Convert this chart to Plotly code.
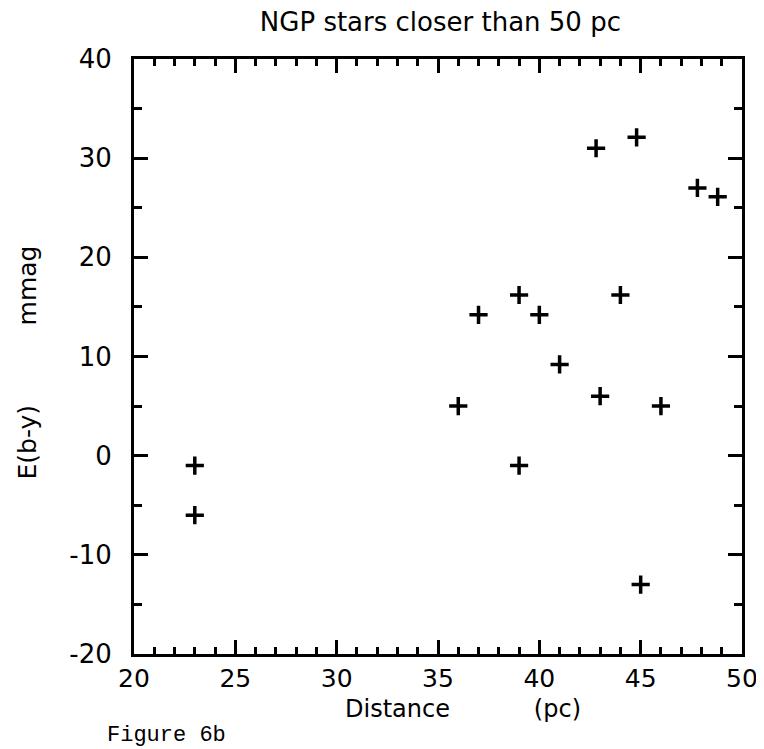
import plotly.graph_objects as go

# stars closer than 50 pc
distance = [23, 23, 36, 37, 39, 39, 40, 41, 42.8, 43, 44, 44.8, 45, 46, 47.8, 48.8]
ebv_mmag = [-1, -6, 5, 14.2, 16.2, -1, 14.2, 9.2, 31, 6, 16.2, 32.1, -13, 5, 27, 26.1]

x_ticks = [20, 25, 30, 35, 40, 45, 50]
y_ticks = [-20, -10, 0, 10, 20, 30, 40]

plot_font = "DejaVu Sans"
nb = "\u00a0"

fig = go.Figure()
fig.add_trace(go.Scatter(
    x=distance, y=ebv_mmag, mode="markers",
    marker=dict(symbol="cross-thin", size=13, color="black",
                line=dict(width=3.5, color="black")),
    showlegend=False,
))

axis_common = dict(
    showgrid=False, zeroline=False, showline=True, linecolor="black",
    linewidth=3, mirror="ticks", ticks="inside", tickcolor="black",
    tickwidth=3, ticklen=14,
)

fig.update_xaxes(
    range=[20, 50], tickvals=x_ticks, ticktext=[str(v) for v in x_ticks],
    ticklabelstandoff=0,
    tickfont=dict(family=plot_font, size=25, color="black"),
    minor=dict(dtick=1, ticks="inside", ticklen=7, tickwidth=3, tickcolor="black"),
    **axis_common,
)
fig.update_yaxes(
    range=[-20, 40], tickvals=y_ticks, ticktext=[str(v) for v in y_ticks],
    ticklabelstandoff=14,
    tickfont=dict(family=plot_font, size=26, color="black"),
    minor=dict(dtick=5, ticks="inside", ticklen=8, tickwidth=3, tickcolor="black"),
    **axis_common,
)

fig.update_layout(
    width=764, height=749,
    margin=dict(l=126, r=30, t=51, b=103),
    plot_bgcolor="white", paper_bgcolor="white",
    title=dict(text="NGP stars closer than 50 pc", x=0.566, xanchor="center",
               y=0.982, yanchor="middle",
               font=dict(family=plot_font, size=26, color="black")),
    annotations=[
        # x axis title, placed as in the original
        dict(text="Distance" + nb * 11 + "(pc)", xref="paper", yref="paper",
             x=0.344, y=-0.092, xanchor="left", yanchor="middle", showarrow=False,
             font=dict(family=plot_font, size=24, color="black")),
        # y axis title
        dict(text="E(b-y)" + nb * 10 + "mmag", xref="paper", yref="paper",
             x=-0.176, y=0.49, xanchor="center", yanchor="middle", textangle=-90,
             showarrow=False,
             font=dict(family=plot_font, size=25, color="black")),
        dict(text="Figure 6b", xref="paper", yref="paper",
             x=-0.048, y=-0.137, xanchor="left", yanchor="middle",
             showarrow=False,
             font=dict(family="Liberation Mono", size=22, color="black")),
    ],
)

fig.write_html("out.html")
